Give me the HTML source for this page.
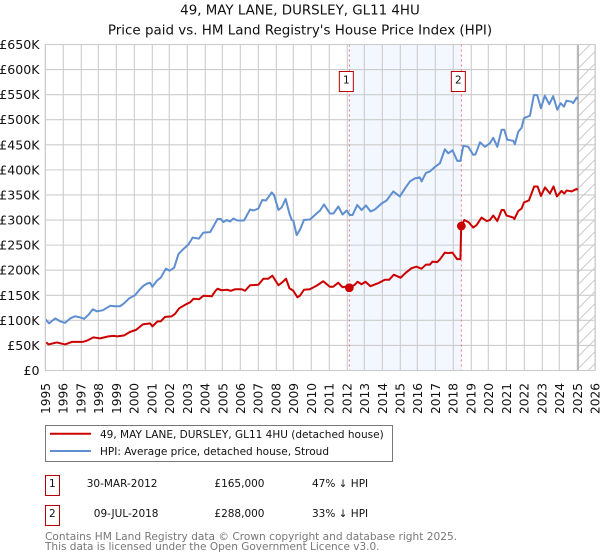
<!DOCTYPE html>
<html lang="en">
<head>
<meta charset="utf-8">
<title>49, MAY LANE, DURSLEY, GL11 4HU</title>
<style>
html,body{margin:0;padding:0;background:#fff;width:600px;height:560px;overflow:hidden}
svg{display:block;font-family:"DejaVu Sans","Liberation Sans",sans-serif}
</style>
</head>
<body>
<svg id="chart" width="600" height="560" viewBox="0 0 600 560" xmlns="http://www.w3.org/2000/svg">
  <text x="300" y="14.5" font-size="13.4" text-anchor="middle" fill="#111">49, MAY LANE, DURSLEY, GL11 4HU</text>
  <text x="300" y="34.5" font-size="13.45" text-anchor="middle" fill="#111">Price paid vs. HM Land Registry's House Price Index (HPI)</text>
  <g id="plot"></g>

  <g>
    <rect x="45.5" y="425.5" width="347" height="36" fill="#fff" stroke="#777" stroke-width="1"/>
    <line x1="50" x2="91" y1="433.7" y2="433.7" stroke="#cc0000" stroke-width="2"/>
    <text x="100" y="438" font-size="10.5" fill="#111">49, MAY LANE, DURSLEY, GL11 4HU (detached house)</text>
    <line x1="50" x2="91" y1="451" y2="451" stroke="#5f8fd0" stroke-width="2"/>
    <text x="100" y="455" font-size="10.5" fill="#111">HPI: Average price, detached house, Stroud</text>
  </g>

  <g font-size="10.5" fill="#111">
    <rect x="45.5" y="475.5" width="14" height="20" fill="#fff" stroke="#b80000" stroke-width="1"/>
    <text x="52.3" y="487" text-anchor="middle">1</text>
    <text x="157.5" y="487" text-anchor="end">30-MAR-2012</text>
    <text x="264.5" y="487" text-anchor="end">£165,000</text>
    <text x="312" y="487">47% ↓ HPI</text>
  </g>
  <g font-size="10.5" fill="#111">
    <rect x="45.5" y="505.5" width="14" height="20" fill="#fff" stroke="#b80000" stroke-width="1"/>
    <text x="52.3" y="517" text-anchor="middle">2</text>
    <text x="158.5" y="517" text-anchor="end">09-JUL-2018</text>
    <text x="264.5" y="517" text-anchor="end">£288,000</text>
    <text x="312" y="517">33% ↓ HPI</text>
  </g>
  <text x="45" y="540" font-size="10.6" fill="#777">Contains HM Land Registry data © Crown copyright and database right 2025.</text>
  <text x="45" y="550" font-size="10.5" fill="#777">This data is licensed under the Open Government Licence v3.0.</text>
</svg>

<script>
const yTickValues = [0, 50, 100, 150, 200, 250, 300, 350, 400, 450, 500, 550, 600, 650];
const yTickLabels = ["£0", "£50K", "£100K", "£150K", "£200K", "£250K", "£300K", "£350K", "£400K", "£450K", "£500K", "£550K", "£600K", "£650K"];
const xTickYears = [1995, 1996, 1997, 1998, 1999, 2000, 2001, 2002, 2003, 2004, 2005, 2006, 2007, 2008, 2009, 2010, 2011, 2012, 2013, 2014, 2015, 2016, 2017, 2018, 2019, 2020, 2021, 2022, 2023, 2024, 2025, 2026];
const hpiYears = [1995, 1995.2, 1995.55, 1995.83, 1996.1, 1996.4, 1996.67, 1996.95, 1997.18, 1997.42, 1997.67, 1997.9, 1998.23, 1998.65, 1998.93, 1999.2, 1999.43, 1999.73, 2000.05, 2000.3, 2000.53, 2000.71, 2000.9, 2001.03, 2001.28, 2001.5, 2001.79, 2002, 2002.26, 2002.5, 2002.74, 2003.06, 2003.3, 2003.66, 2003.9, 2004.29, 2004.47, 2004.7, 2004.89, 2005.04, 2005.23, 2005.41, 2005.6, 2005.82, 2006.2, 2006.54, 2006.73, 2007.01, 2007.23, 2007.44, 2007.76, 2007.89, 2008.14, 2008.32, 2008.55, 2008.76, 2008.89, 2008.98, 2009.17, 2009.36, 2009.58, 2009.92, 2010.2, 2010.49, 2010.71, 2011.05, 2011.24, 2011.52, 2011.76, 2011.99, 2012.17, 2012.32, 2012.59, 2012.83, 2013.08, 2013.34, 2013.58, 2013.96, 2014.24, 2014.62, 2014.99, 2015.28, 2015.56, 2015.84, 2016.12, 2016.22, 2016.46, 2016.69, 2016.97, 2017.25, 2017.53, 2017.72, 2017.96, 2018.23, 2018.41, 2018.57, 2018.85, 2019.13, 2019.26, 2019.51, 2019.79, 2020.07, 2020.26, 2020.49, 2020.73, 2020.88, 2021.05, 2021.39, 2021.48, 2021.67, 2021.86, 2021.99, 2022.33, 2022.55, 2022.74, 2022.95, 2023.17, 2023.42, 2023.64, 2023.87, 2024.06, 2024.25, 2024.39, 2024.68, 2024.77, 2024.96, 2025.03];
const hpiValues = [102, 94, 104, 98, 95, 104, 108, 106, 103, 111, 122, 118, 120, 129, 128, 128, 134, 144, 150, 161, 169, 173, 175, 167, 179, 185, 203, 199, 205, 232, 241, 251, 265, 263, 275, 276, 287, 302, 302, 296, 300, 297, 303, 299, 299, 321, 319, 323, 340, 339, 355, 350, 320, 325, 342, 313, 300, 299, 270, 281, 300, 301, 310, 319, 331, 313, 313, 327, 311, 319, 310, 310, 330, 320, 329, 317, 321, 333, 339, 357, 347, 363, 377, 383, 385, 377, 394, 397, 406, 413, 441, 433, 439, 418, 418, 448, 446, 430, 431, 455, 446, 453, 464, 446, 480, 480, 460, 458, 451, 476, 484, 503, 508, 549, 549, 523, 548, 531, 547, 520, 533, 526, 538, 536, 533, 544, 541];
const priceYears = [1995.04, 1995.17, 1995.64, 1996.1, 1996.48, 1997.1, 1997.37, 1997.7, 1998.08, 1998.55, 1998.83, 1999.06, 1999.44, 1999.77, 2000.11, 2000.49, 2000.9, 2001.03, 2001.32, 2001.5, 2001.75, 2002.12, 2002.31, 2002.54, 2002.93, 2003.16, 2003.35, 2003.66, 2003.91, 2004.38, 2004.57, 2004.7, 2004.94, 2005.23, 2005.45, 2005.7, 2006.07, 2006.26, 2006.54, 2007.01, 2007.29, 2007.57, 2007.8, 2008.14, 2008.33, 2008.57, 2008.76, 2008.98, 2009.21, 2009.35, 2009.58, 2009.91, 2010.29, 2010.67, 2011.04, 2011.23, 2011.51, 2011.76, 2011.89, 2012.14, 2012.45, 2012.6, 2012.83, 2013.05, 2013.33, 2013.77, 2014.14, 2014.39, 2014.65, 2015.03, 2015.33, 2015.65, 2015.93, 2016.21, 2016.46, 2016.68, 2016.83, 2017.09, 2017.24, 2017.53, 2017.71, 2017.96, 2018.22, 2018.41, 2018.45, 2018.63, 2018.89, 2019.13, 2019.32, 2019.6, 2019.89, 2020.07, 2020.26, 2020.49, 2020.73, 2020.86, 2021.01, 2021.39, 2021.45, 2021.67, 2021.86, 2021.99, 2022.27, 2022.57, 2022.76, 2022.95, 2023.18, 2023.46, 2023.66, 2023.85, 2024.11, 2024.27, 2024.4, 2024.68, 2024.96, 2025.03];
const priceValues = [56, 52, 56, 52, 57, 57, 60, 66, 64, 68, 69, 68, 70, 77, 81, 92, 94, 88, 98, 98, 107, 108, 113, 124, 132, 136, 143, 142, 149, 148, 158, 163, 160, 161, 159, 162, 162, 159, 170, 171, 183, 183, 189, 170, 175, 183, 164, 159, 146, 149, 161, 162, 169, 178, 167, 167, 175, 166, 167, 165, 171, 177, 172, 177, 168, 174, 181, 181, 191, 185, 195, 204, 207, 203, 211, 211, 217, 216, 221, 235, 234, 235, 222, 222, 288, 300, 295, 285, 290, 305, 298, 300, 309, 298, 320, 320, 309, 305, 302, 318, 323, 335, 339, 367, 367, 348, 365, 353, 367, 347, 358, 353, 359, 357, 362, 360];
const saleYears = [2012.14, 2018.46];
const saleValues = [165, 288];
const saleLabels = ["1", "2"];
const forecastStartYear = 2025.05;

const svgNS = "http://www.w3.org/2000/svg";
const plot = document.getElementById("plot");
const plotLeft = 45.5, plotRight = 595, plotTop = 44.5, plotBottom = 370.5;
function xScale(year) { return plotLeft + (year - 1995) * (plotRight - plotLeft) / 31; }
function yScale(value) { return plotBottom - value * (plotBottom - plotTop) / 650; }
function make(tag, attrs) {
  const el = document.createElementNS(svgNS, tag);
  for (const k in attrs) el.setAttribute(k, attrs[k]);
  plot.appendChild(el);
  return el;
}
function linePath(xs, ys) {
  return xs.map((x, i) => (i ? "L" : "M") + xScale(x).toFixed(2) + " " + yScale(ys[i]).toFixed(2)).join(" ");
}

const band = make("rect", { x: xScale(saleYears[0]), y: plotTop, width: xScale(saleYears[1]) - xScale(saleYears[0]), height: plotBottom - plotTop, fill: "#f3f7ff" });



yTickValues.forEach((v, i) => {
  const grid = make("line", { x1: plotLeft, x2: plotRight, y1: yScale(v), y2: yScale(v), stroke: "#ccc", "stroke-width": 1.1 });
  
  
  const label = make("text", { x: 39.5, y: yScale(v) + 4.5, "font-size": 12.6, "text-anchor": "end", fill: "#111" });
  
  
  label.textContent = yTickLabels[i];
});

xTickYears.forEach((year) => {
  const px = Math.round(xScale(year) - 0.3) + 0.3;
  const grid = make("line", { x1: px, x2: px, y1: plotTop, y2: plotBottom, stroke: "#ccc", "stroke-width": 1.1 });
  
  
  const label = make("text", { transform: "translate(" + (xScale(year) + 4.5) + ",414) rotate(-90)", "font-size": 12.2, fill: "#111" });
  
  
  label.textContent = String(year);
});

const hatchLeft = xScale(forecastStartYear);
for (let y0 = plotTop + 12; y0 < plotBottom + 18; y0 += 12) {
  const yStart = Math.min(y0, plotBottom);
  const xStart = hatchLeft + (y0 - yStart);
  const yEnd = Math.max(y0 - (plotRight - hatchLeft), plotTop);
  const xEnd = hatchLeft + (y0 - yEnd);
  const hatch = make("line", { x1: xStart, y1: yStart, x2: xEnd, y2: yEnd, stroke: "#ccc", "stroke-width": 1 });
  
  
}
const dataEnd = make("line", { x1: hatchLeft, x2: hatchLeft, y1: plotTop, y2: plotBottom, stroke: "#aaa", "stroke-width": 1.4 });



saleYears.forEach((year) => {
  const dash = make("line", { x1: xScale(year), x2: xScale(year), y1: plotTop, y2: plotBottom, stroke: "#e8707a", "stroke-width": 1, "stroke-dasharray": "2 3" });
  
  
});

const hpiLine = make("path", { d: linePath(hpiYears, hpiValues), fill: "none", stroke: "#5f8fd0", "stroke-width": 2, "stroke-linejoin": "round" });



const priceLine = make("path", { d: linePath(priceYears, priceValues), fill: "none", stroke: "#cc0000", "stroke-width": 2, "stroke-linejoin": "round" });



saleYears.forEach((year, i) => {
  const dot = make("circle", { cx: xScale(year), cy: yScale(saleValues[i]), r: 4.4, fill: "#cc0000" });
  
  
  const box = make("rect", { x: xScale(year) - 10, y: 71.5, width: 14, height: 20, fill: "#fff", stroke: "#b80000", "stroke-width": 1 });
  
  
  const num = make("text", { x: xScale(year) - 3, y: 83.5, "font-size": 10.5, "text-anchor": "middle", fill: "#111" });
  
  
  num.textContent = saleLabels[i];
});

const frame = make("rect", { x: plotLeft, y: plotTop, width: plotRight - plotLeft, height: plotBottom - plotTop, fill: "none", stroke: "#ccc", "stroke-width": 1.1 });


</script>
</body>
</html>
